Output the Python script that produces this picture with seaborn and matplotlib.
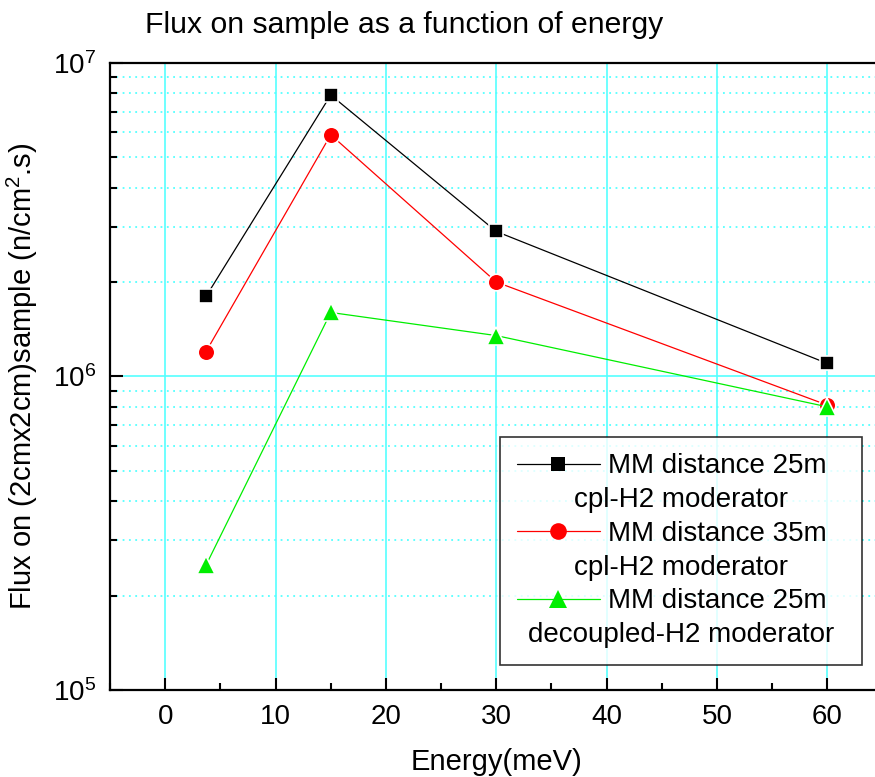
import pandas as pd
import seaborn as sns
import matplotlib.pyplot as plt
from matplotlib.lines import Line2D
from matplotlib.ticker import LogLocator, MultipleLocator

# data
energy = [3.7, 15, 30, 60]
flux_25m_cpl = [1.8e6, 7.9e6, 2.9e6, 1.1e6]
flux_35m_cpl = [1.2e6, 5.9e6, 2.0e6, 8.1e5]
flux_25m_dec = [2.5e5, 1.6e6, 1.35e6, 8.0e5]

first_lines = ["MM distance 25m", "MM distance 35m", "MM distance 25m"]
second_lines = ["cpl-H2 moderator", "cpl-H2 moderator", "decoupled-H2 moderator"]
colors = ["black", "red", "#00ee00"]
markers = ["s", "o", "^"]
sizes = [10, 12, 13]

sns.set_theme(style="white")
plt.rcParams['font.family'] = ['Liberation Sans', 'DejaVu Sans']
plt.rcParams['mathtext.fontset'] = 'custom'
plt.rcParams['mathtext.rm'] = 'Liberation Sans'
plt.rcParams['mathtext.it'] = 'Liberation Sans'
plt.rcParams['text.color'] = 'black'
plt.rcParams['axes.labelcolor'] = 'black'
plt.rcParams['xtick.color'] = 'black'
plt.rcParams['ytick.color'] = 'black'

fig = plt.figure(figsize=(8.75, 7.77), dpi=100)
ax = fig.add_axes([0.1257, 0.112, 0.883, 0.807])

series = [flux_25m_cpl, flux_35m_cpl, flux_25m_dec]
for vals, lab, c, m, s in zip(series, first_lines, colors, markers, sizes):
    df = pd.DataFrame({"Energy": energy, "Flux": vals})
    sns.lineplot(x="Energy", y="Flux", data=df, ax=ax, color=c, marker=m,
                 markersize=s, markeredgecolor="white", markeredgewidth=1.2,
                 linewidth=0.9, label=lab)

ax.set_yscale("log")
ax.set_xlim(-5, 65)
ax.set_ylim(1e5, 1e7)

ax.xaxis.set_major_locator(MultipleLocator(10))
ax.xaxis.set_minor_locator(MultipleLocator(5))
ax.yaxis.set_major_locator(LogLocator(base=10))
ax.yaxis.set_minor_locator(LogLocator(base=10, subs=range(2, 10)))

ax.grid(True, which="major", axis="both", color="#55ffff", linewidth=1.2)
ax.grid(True, which="minor", axis="y", color="#55ffff", linestyle=(0, (1, 2.5)),
        linewidth=1.3)
ax.set_axisbelow(True)

ax.tick_params(which="major", direction="in", length=9, width=1.5,
               labelsize=20, bottom=True, left=True, top=False, right=False, pad=10)
ax.tick_params(which="minor", direction="in", length=5, width=1.5,
               bottom=True, left=True, top=False, right=False)
for sp in ax.spines.values():
    sp.set_linewidth(1.6)
    sp.set_color("black")

ax.set_xlabel("Energy(meV)", fontsize=21, labelpad=13)
ax.set_ylabel("Flux on (2cmx2cm)sample (n/cm$^2$.s)", fontsize=21, labelpad=9)
fig.text(145 / 875, 1 - 25 / 777, "Flux on sample as a function of energy",
         fontsize=21.7, ha="left", va="center")

# legend: handle + first line, then an empty row for the second line
handles, labs = ax.get_legend_handles_labels()
blank = Line2D([], [], linestyle="none")
leg_h, leg_l = [], []
for h, l in zip(handles, labs):
    leg_h += [h, blank]
    leg_l += [l, " "]
leg = ax.legend(leg_h, leg_l, loc="lower left", mode="expand",
                bbox_to_anchor=(0.505, 0.04, 0.4686, 0.36), fontsize=20,
                frameon=True, fancybox=False, edgecolor="black",
                handlelength=3.0, handletextpad=0.3, labelspacing=0.28,
                borderpad=0.6, borderaxespad=0)
leg.get_frame().set_linewidth(1.2)
for h in leg.legend_handles:
    if isinstance(h, Line2D):
        h.set_markeredgewidth(0)

# second label lines, centred in the legend box like the original
fig.canvas.draw()
box = leg.get_window_extent()
inv = fig.transFigure.inverted()
texts = leg.get_texts()
for i, txt in enumerate(second_lines):
    tb = texts[2 * i + 1].get_window_extent()
    cx = (box.x0 + box.x1) / 2
    cy = (tb.y0 + tb.y1) / 2
    fx, fy = inv.transform((cx, cy))
    fig.text(fx, fy, txt, fontsize=20, ha="center", va="center")

fig.savefig("out.png", dpi=100)
